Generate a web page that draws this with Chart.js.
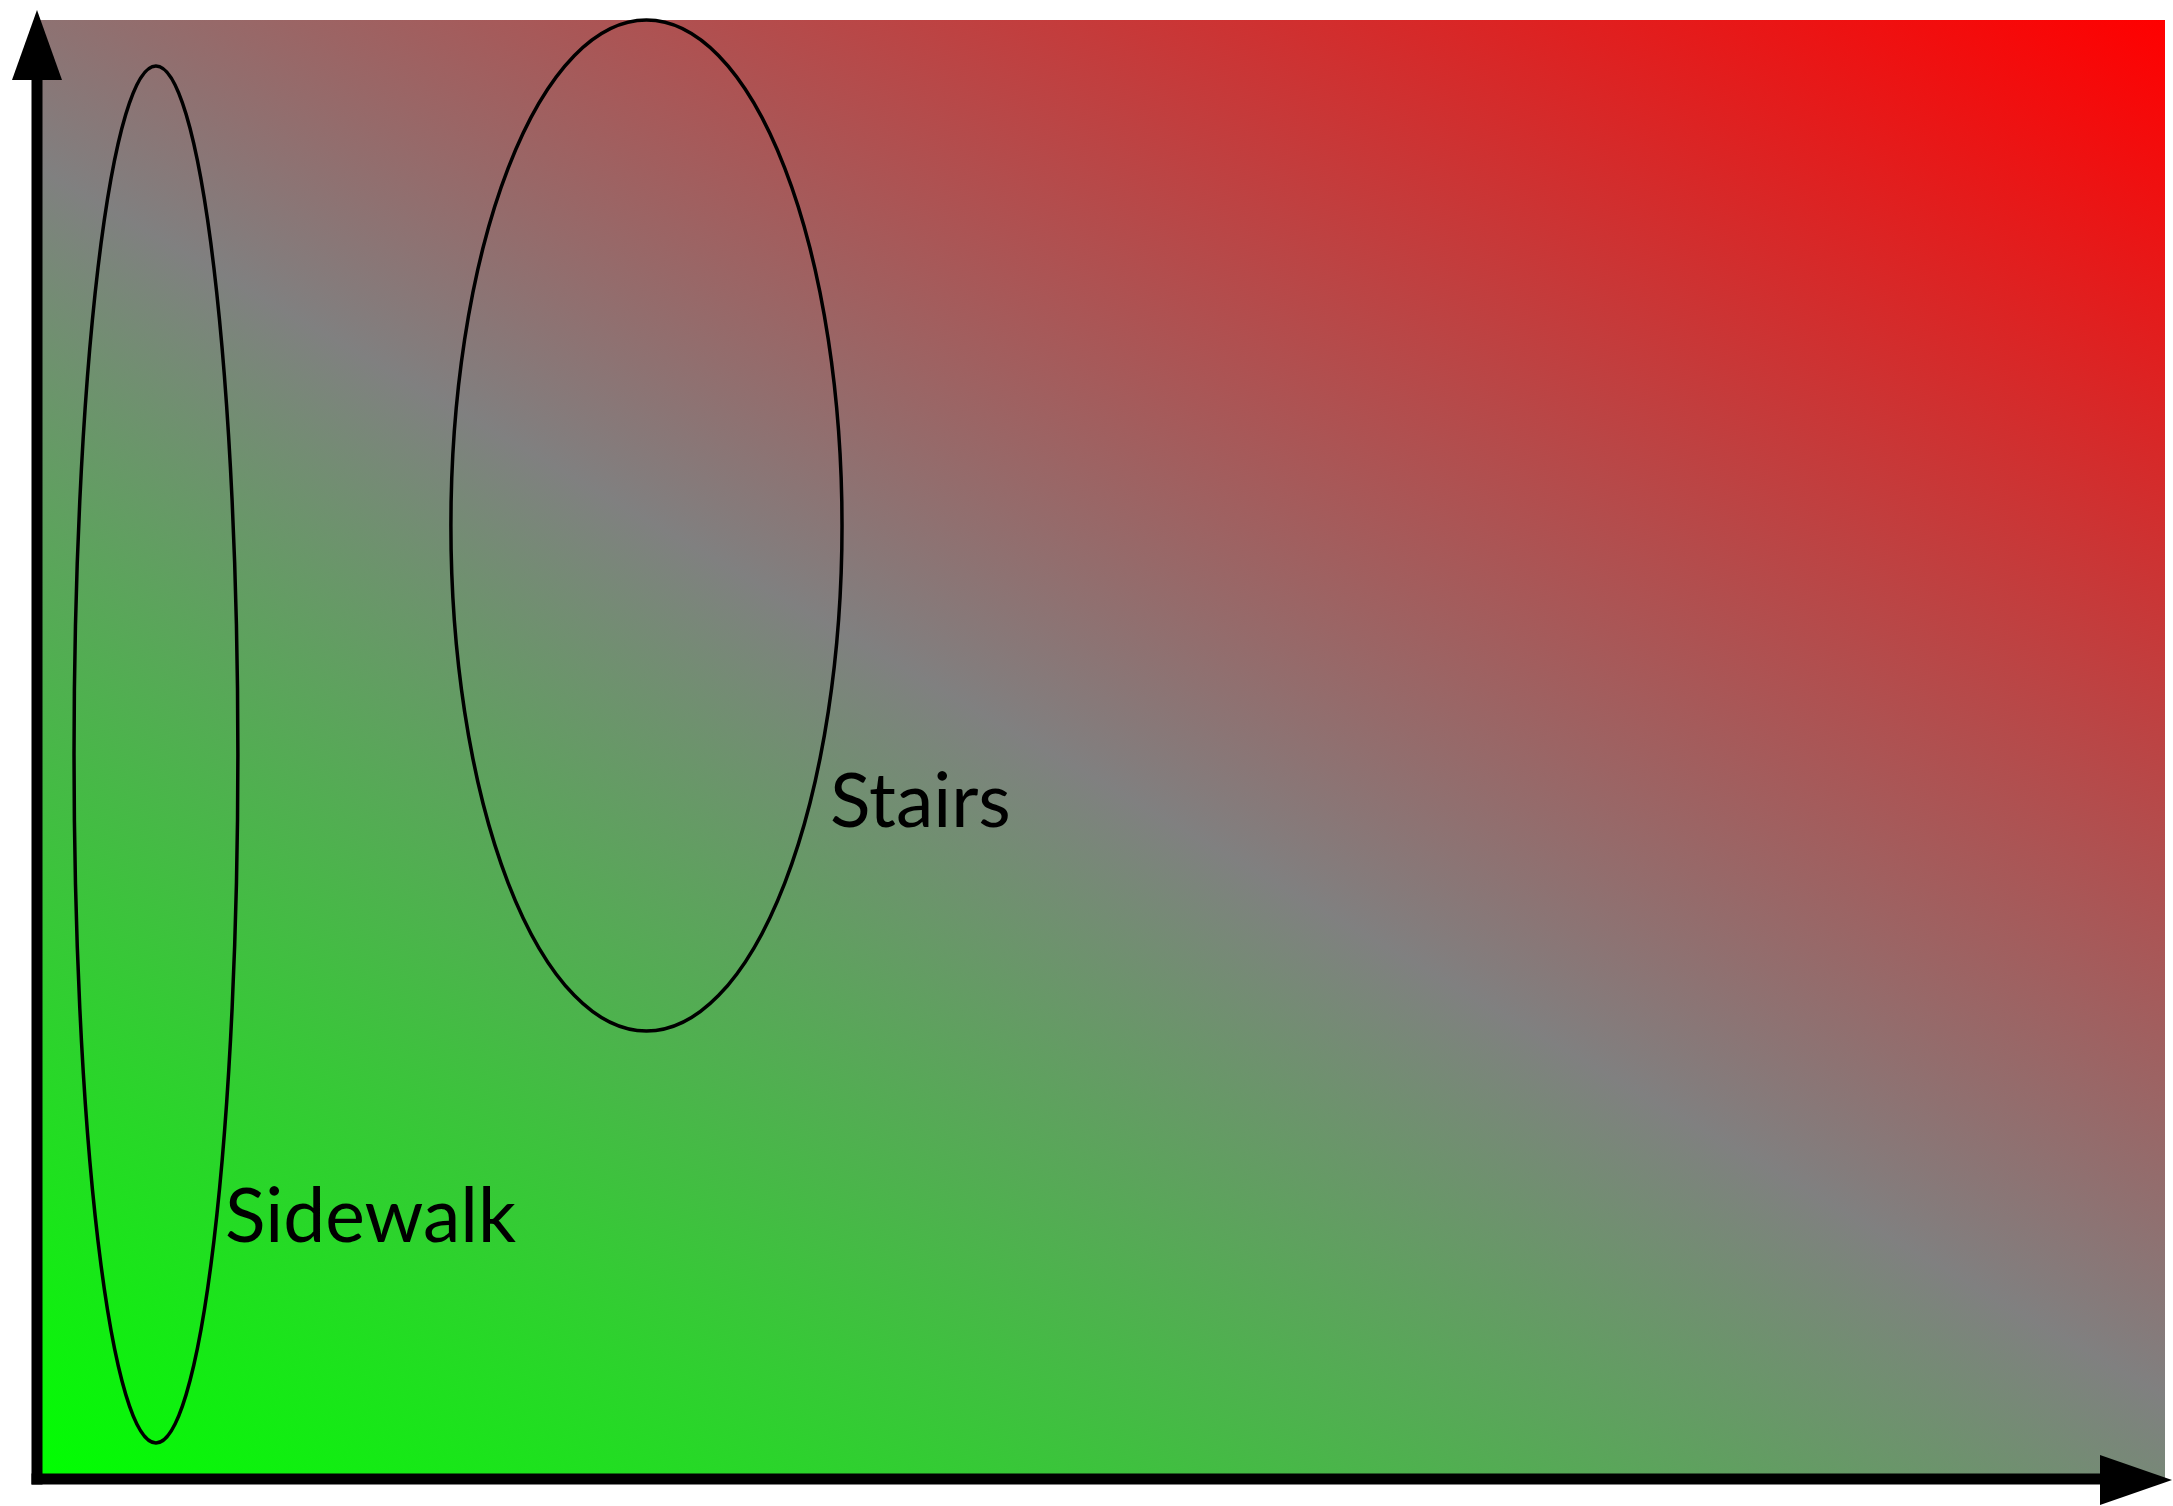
<!DOCTYPE html>
<html>
<head>
<meta charset="utf-8">
<script src="https://cdn.jsdelivr.net/npm/chart.js@4/dist/chart.umd.min.js"></script>
<style>
  html, body { margin: 0; padding: 0; background: #ffffff; }
  #wrap { width: 2173px; height: 1506px; position: relative; }
</style>
</head>
<body>
<div id="wrap"><canvas id="c" width="2173" height="1506"></canvas></div>
<script>
// ---- data (axis units 0..100) ----
const categories   = ['Sidewalk', 'Stairs'];
const centerX      = [5.59, 28.64];
const centerY      = [49.66, 65.35];
const radiusX      = [3.85, 9.19];
const radiusY      = [47.19, 34.65];
const labelX       = [8.83, 37.27];
const labelY       = [16.24, 44.69];
const axisMin      = [0, 0];
const axisMax      = [100, 100];

const points = categories.map((c, i) => ({ x: centerX[i], y: centerY[i] }));

const gradientPlugin = {
  id: 'bgGradient',
  beforeDatasetsDraw(chart) {
    const { ctx, chartArea: a } = chart;
    const W = a.right - a.left, H = a.bottom - a.top;
    const cx = (a.left + a.right) / 2, cy = (a.top + a.bottom) / 2;
    // gradient direction ~30deg from vertical, towards top-right
    const ang = 30 * Math.PI / 180;
    const ux = Math.sin(ang), uy = -Math.cos(ang);
    const L = Math.abs(W / 2 * ux) + Math.abs(H / 2 * uy);
    const g = ctx.createLinearGradient(cx - L * ux, cy - L * uy, cx + L * ux, cy + L * uy);
    g.addColorStop(0, 'rgb(0,255,0)');
    g.addColorStop(0.488, 'rgb(128,128,128)');
    g.addColorStop(1, 'rgb(255,0,0)');
    ctx.save();
    ctx.fillStyle = g;
    ctx.fillRect(a.left, a.top, W, H);
    ctx.restore();
  }
};

const ellipsePlugin = {
  id: 'ellipses',
  afterDatasetsDraw(chart) {
    const { ctx } = chart;
    const xs = chart.scales.x, ys = chart.scales.y;
    ctx.save();
    categories.forEach((name, i) => {
      const px = xs.getPixelForValue(centerX[i]);
      const py = ys.getPixelForValue(centerY[i]);
      const rx = Math.abs(xs.getPixelForValue(centerX[i] + radiusX[i]) - px);
      const ry = Math.abs(ys.getPixelForValue(centerY[i] + radiusY[i]) - py);
      ctx.beginPath();
      ctx.ellipse(px, py, rx, ry, 0, 0, Math.PI * 2);
      ctx.lineWidth = 3.5;
      ctx.strokeStyle = '#000';
      ctx.stroke();
      ctx.font = '75px Lato, "Noto Sans", sans-serif';
      ctx.fillStyle = '#000';
      ctx.textAlign = 'left';
      ctx.textBaseline = 'alphabetic';
      ctx.fillText(name, xs.getPixelForValue(labelX[i]), ys.getPixelForValue(labelY[i]));
    });
    ctx.restore();
  },
  afterDraw(chart) {
    const { ctx, chartArea: a } = chart;
    ctx.save();
    ctx.fillStyle = '#000';
    const lw = 11;
    // y axis line
    ctx.fillRect(a.left - lw / 2, a.top + 40, lw, a.bottom - a.top - 40 + lw / 2);
    // x axis line
    ctx.fillRect(a.left - lw / 2, a.bottom - lw / 2, a.right - a.left - 20, lw);
    // y arrow
    ctx.beginPath();
    ctx.moveTo(a.left, a.top - 10);
    ctx.lineTo(a.left - 25, a.top + 60);
    ctx.lineTo(a.left + 25, a.top + 60);
    ctx.closePath();
    ctx.fill();
    // x arrow
    ctx.beginPath();
    ctx.moveTo(a.right + 7, a.bottom + 1);
    ctx.lineTo(a.right - 65, a.bottom - 24);
    ctx.lineTo(a.right - 65, a.bottom + 26);
    ctx.closePath();
    ctx.fill();
    ctx.restore();
  }
};

new Chart(document.getElementById('c'), {
  type: 'scatter',
  data: {
    datasets: [{
      label: 'regions',
      data: points,
      pointRadius: 0,
      pointHoverRadius: 0,
      showLine: false
    }]
  },
  options: {
    responsive: false,
    animation: false,
    events: [],
    layout: { padding: { left: 37, top: 20, right: 8, bottom: 27 } },
    plugins: { legend: { display: false }, tooltip: { enabled: false } },
    scales: {
      x: { type: 'linear', min: axisMin[0], max: axisMax[0], display: false },
      y: { type: 'linear', min: axisMin[1], max: axisMax[1], display: false }
    }
  },
  plugins: [gradientPlugin, ellipsePlugin]
});
</script>
</body>
</html>
